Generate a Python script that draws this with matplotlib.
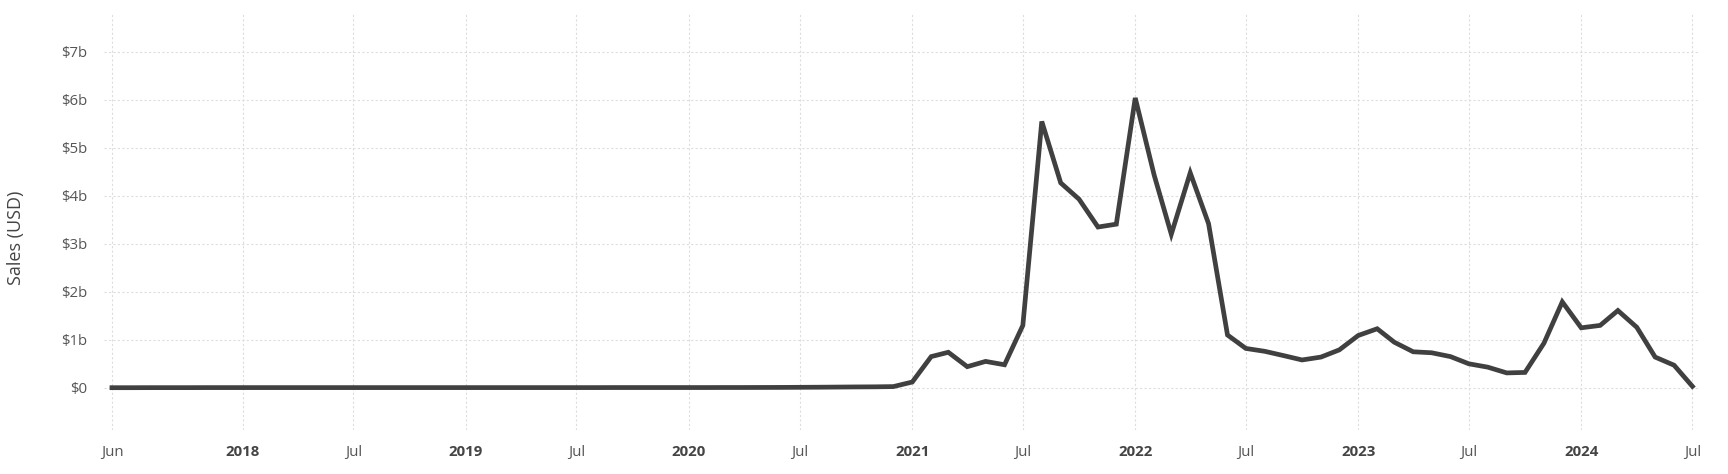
import matplotlib
matplotlib.use("Agg")
import matplotlib.pyplot as plt
import pandas as pd

# monthly sales, billions USD, Jun 2017 .. Jul 2024
months = pd.date_range("2017-06-01", "2024-07-01", freq="MS")
sales_2017 = [0.002, 0.002, 0.003, 0.003, 0.003, 0.004, 0.004]
sales_2018 = [0.004, 0.004, 0.004, 0.004, 0.004, 0.004, 0.004, 0.004, 0.004, 0.004, 0.004, 0.004]
sales_2019 = [0.004, 0.004, 0.004, 0.004, 0.004, 0.004, 0.004, 0.004, 0.005, 0.005, 0.005, 0.005]
sales_2020 = [0.005, 0.005, 0.006, 0.006, 0.007, 0.008, 0.010, 0.012, 0.015, 0.018, 0.020, 0.025]
sales_2021 = [0.12, 0.65, 0.74, 0.44, 0.55, 0.48, 1.30, 5.55, 4.27, 3.93, 3.35, 3.41]
sales_2022 = [6.04, 4.43, 3.20, 4.48, 3.42, 1.10, 0.82, 0.76, 0.67, 0.58, 0.64, 0.79]
sales_2023 = [1.09, 1.23, 0.95, 0.75, 0.73, 0.65, 0.50, 0.43, 0.31, 0.32, 0.93, 1.79]
sales_2024 = [1.25, 1.30, 1.61, 1.26, 0.64, 0.47, 0.03]
sales = sales_2017 + sales_2018 + sales_2019 + sales_2020 + sales_2021 + sales_2022 + sales_2023 + sales_2024

tick_dates = ["2017-06-01", "2018-01-01", "2018-07-01", "2019-01-01", "2019-07-01",
              "2020-01-01", "2020-07-01", "2021-01-01", "2021-07-01", "2022-01-01",
              "2022-07-01", "2023-01-01", "2023-07-01", "2024-01-01", "2024-07-01"]
tick_labels = ["Jun", "2018", "Jul", "2019", "Jul", "2020", "Jul", "2021", "Jul",
               "2022", "Jul", "2023", "Jul", "2024", "Jul"]
y_ticks = [0, 1, 2, 3, 4, 5, 6, 7]
y_labels = ["$0", "$1b", "$2b", "$3b", "$4b", "$5b", "$6b", "$7b"]

plt.rcParams['font.family'] = ['Open Sans', 'DejaVu Sans']

fig = plt.figure(figsize=(17.28, 4.74), dpi=100)
ax = fig.add_axes([0.0602, 0.0928, 0.9238, 0.8777])

ax.plot(months, sales, color="#404040", linewidth=3.4, solid_joinstyle="miter")

ax.set_xlim(pd.Timestamp("2017-05-19"), pd.Timestamp("2024-07-14"))
ax.set_ylim(-0.88, 7.79)

ax.set_xticks(pd.to_datetime(tick_dates))
ax.set_xticklabels(tick_labels)
for lab in ax.get_xticklabels():
    if lab.get_text().isdigit():
        lab.set_fontweight("bold")
        lab.set_color("#444444")
    else:
        lab.set_color("#555555")
ax.set_yticks(y_ticks)
ax.set_yticklabels(y_labels, color="#555555")

ax.tick_params(axis="both", length=0, labelsize=10.8)
ax.tick_params(axis="x", pad=11)
ax.tick_params(axis="y", pad=12)

ax.grid(True, color="#dddddd", linestyle=(0, (2, 2)), linewidth=0.8)
ax.set_axisbelow(True)
for s in ax.spines.values():
    s.set_visible(False)

fig.text(16 / 1728, 1 - 238 / 474, "Sales (USD)", rotation=90, ha="center", va="center",
         fontsize=13, color="#444444")

fig.savefig("out.png", dpi=100)
